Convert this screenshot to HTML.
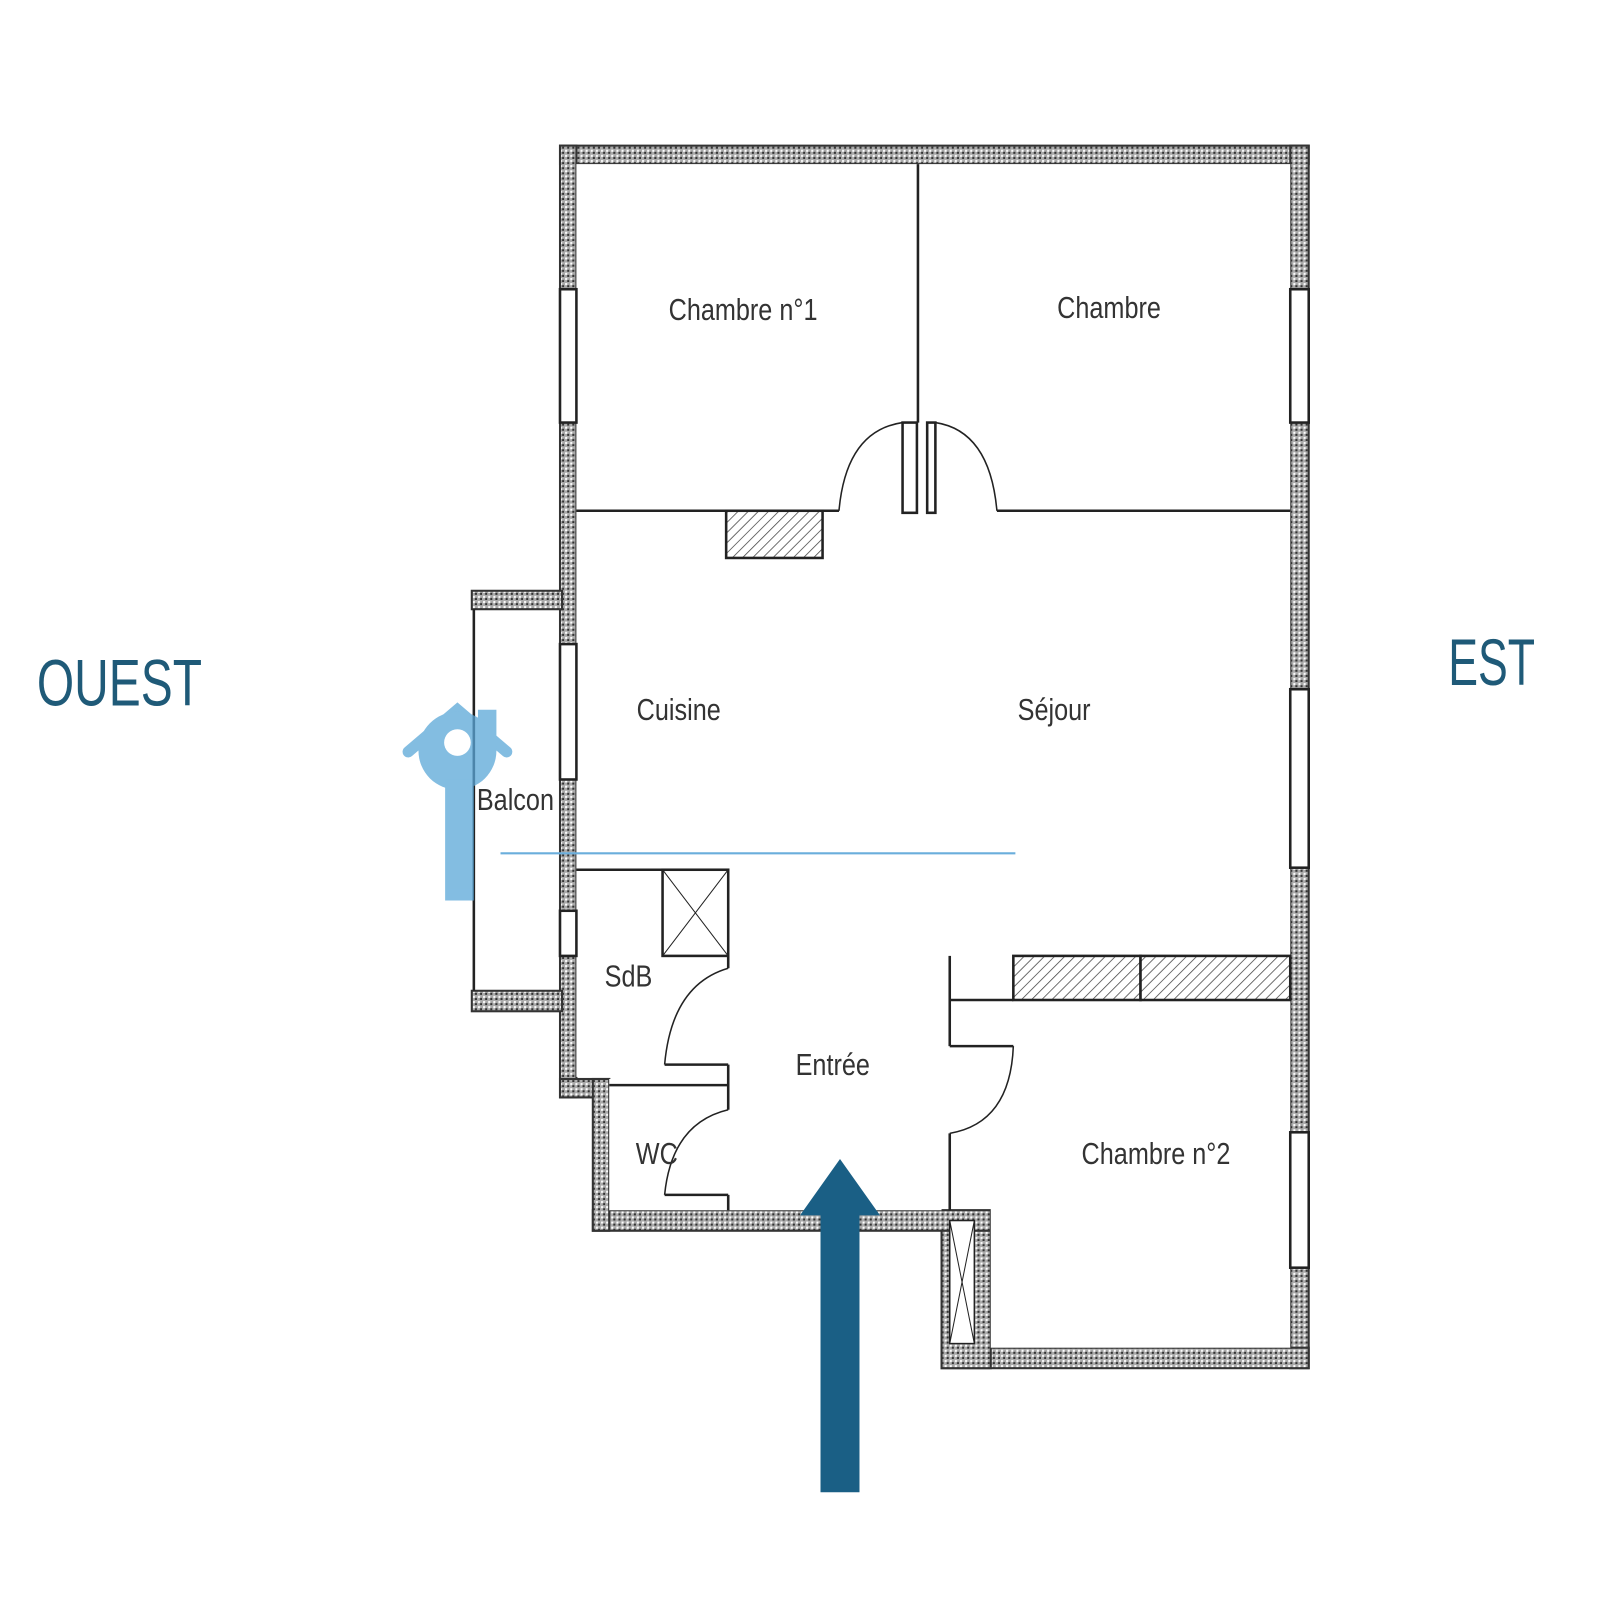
<!DOCTYPE html>
<html><head><meta charset="utf-8"><style>
html,body{margin:0;padding:0;background:#fff;width:1600px;height:1600px;overflow:hidden}
svg{display:block}
</style></head><body>
<svg width="1600" height="1600" viewBox="0 0 1560 1560" xmlns="http://www.w3.org/2000/svg">
<defs>
<pattern id="h" width="5" height="5" patternUnits="userSpaceOnUse">
<rect width="5" height="5" fill="#aaa"/><rect x="1" y="1" width="2" height="2" fill="#fff"/><rect x="3" y="3" width="2" height="2" fill="#333"/>
</pattern>
<pattern id="d" width="7" height="7" patternUnits="userSpaceOnUse" patternTransform="rotate(45)">
<rect width="7" height="7" fill="#fff"/><line x1="0" y1="0" x2="0" y2="7" stroke="#444" stroke-width="1.5"/>
</pattern>
</defs>
<g stroke="#333" stroke-width="2" fill="url(#h)">
<rect x="546" y="142" width="730" height="18"/>
<rect x="546" y="142" width="16" height="928"/>
<rect x="1258" y="142" width="18" height="1192"/>
<rect x="918" y="1314" width="358" height="20"/>
<rect x="918" y="1180" width="48" height="154"/>
<rect x="578" y="1180" width="388" height="20"/>
<rect x="546" y="1052" width="48" height="18"/>
<rect x="578" y="1052" width="16" height="148"/>
<rect x="460" y="576" width="88" height="18"/>
<rect x="460" y="966" width="88" height="20"/>
</g>
<rect x="562" y="160" width="696" height="890" fill="#fff"/>
<rect x="594" y="1052" width="324" height="128" fill="#fff"/>
<rect x="966" y="975" width="292" height="339" fill="#fff"/>
<g fill="#fff" stroke="#222" stroke-width="2.5">
<rect x="546" y="282" width="16" height="130"/>
<rect x="546" y="628" width="16" height="132"/>
<rect x="546" y="888" width="16" height="44"/>
<rect x="1258" y="282" width="18" height="130"/>
<rect x="1258" y="672" width="18" height="174"/>
<rect x="1258" y="1104" width="18" height="132"/>
</g>
<g stroke="#222" stroke-width="2.5" fill="none">
<line x1="462" y1="594" x2="462" y2="966"/>
<line x1="895" y1="160" x2="895" y2="412"/>
<line x1="562" y1="498" x2="818" y2="498"/>
<line x1="972" y1="498" x2="1258" y2="498"/>
<rect x="880" y="412" width="14" height="88" fill="#fff"/>
<rect x="904" y="412" width="8" height="88" fill="#fff"/>
<path d="M818 498 Q825 420 880 412" stroke-width="1.5"/>
<path d="M912 412 Q965 420 972 498" stroke-width="1.5"/>
<rect x="708" y="498" width="94" height="46" fill="url(#d)"/>
<line x1="562" y1="848" x2="710" y2="848"/>
<rect x="646" y="848" width="64" height="84"/>
<path d="M646 848 L710 932 M710 848 L646 932" stroke-width="1"/>
<line x1="710" y1="932" x2="710" y2="944"/>
<path d="M710 944 Q655 960 648 1038" stroke-width="1.5"/>
<line x1="648" y1="1038" x2="710" y2="1038"/>
<line x1="594" y1="1058" x2="710" y2="1058"/>
<line x1="710" y1="1038" x2="710" y2="1082"/>
<path d="M710 1082 Q655 1095 648 1165" stroke-width="1.5"/>
<line x1="648" y1="1165" x2="710" y2="1165"/>
<line x1="710" y1="1165" x2="710" y2="1180"/>
<line x1="926" y1="932" x2="926" y2="975"/>
<line x1="926" y1="975" x2="988" y2="975"/>
<rect x="988" y="932" width="124" height="43" fill="url(#d)"/>
<rect x="1112" y="932" width="146" height="43" fill="url(#d)"/>
<line x1="926" y1="975" x2="926" y2="1020"/>
<line x1="926" y1="1020" x2="988" y2="1020"/>
<path d="M988 1020 Q985 1095 926 1105" stroke-width="1.5"/>
<line x1="926" y1="1105" x2="926" y2="1180"/>
<rect x="926" y="1190" width="24" height="120" fill="#fff" stroke-width="1.5"/>
<path d="M926 1190 L950 1310 M950 1190 L926 1310" stroke-width="1"/>
</g>
<line x1="488" y1="832" x2="990" y2="832" stroke="#6aaedc" stroke-width="2"/>
<g font-family="Liberation Sans, sans-serif" font-size="30" fill="#333" transform="scale(0.82,1)">
<text x="795" y="312">Chambre n°1</text>
<text x="1257" y="310">Chambre</text>
<text x="757" y="702">Cuisine</text>
<text x="1210" y="702">Séjour</text>
<text x="567" y="790">Balcon</text>
<text x="719" y="962">SdB</text>
<text x="946" y="1048">Entrée</text>
<text x="1286" y="1135">Chambre n°2</text>
<text x="756" y="1135">WC</text>
</g>
<g font-family="Liberation Sans, sans-serif" font-size="64" fill="#1f5a78">
<text transform="translate(36,688) scale(0.73,1)">OUEST</text>
<text transform="translate(1412,668) scale(0.68,1)">EST</text>
</g>
<g opacity="0.75" fill="#5aa7d8">
<path d="M398 733 L446 692 L494 733" stroke="#5aa7d8" stroke-width="11" stroke-linecap="round" fill="none"/>
<rect x="466" y="692" width="18" height="40"/>
<circle cx="446" cy="732" r="38"/>
<rect x="434" y="760" width="28" height="118"/>
<circle cx="446" cy="724" r="13" fill="#fff"/>
</g>
<polygon points="819,1130 858,1185 838,1185 838,1455 800,1455 800,1185 780,1185" fill="#1a5f85"/>
</svg>
</body></html>
